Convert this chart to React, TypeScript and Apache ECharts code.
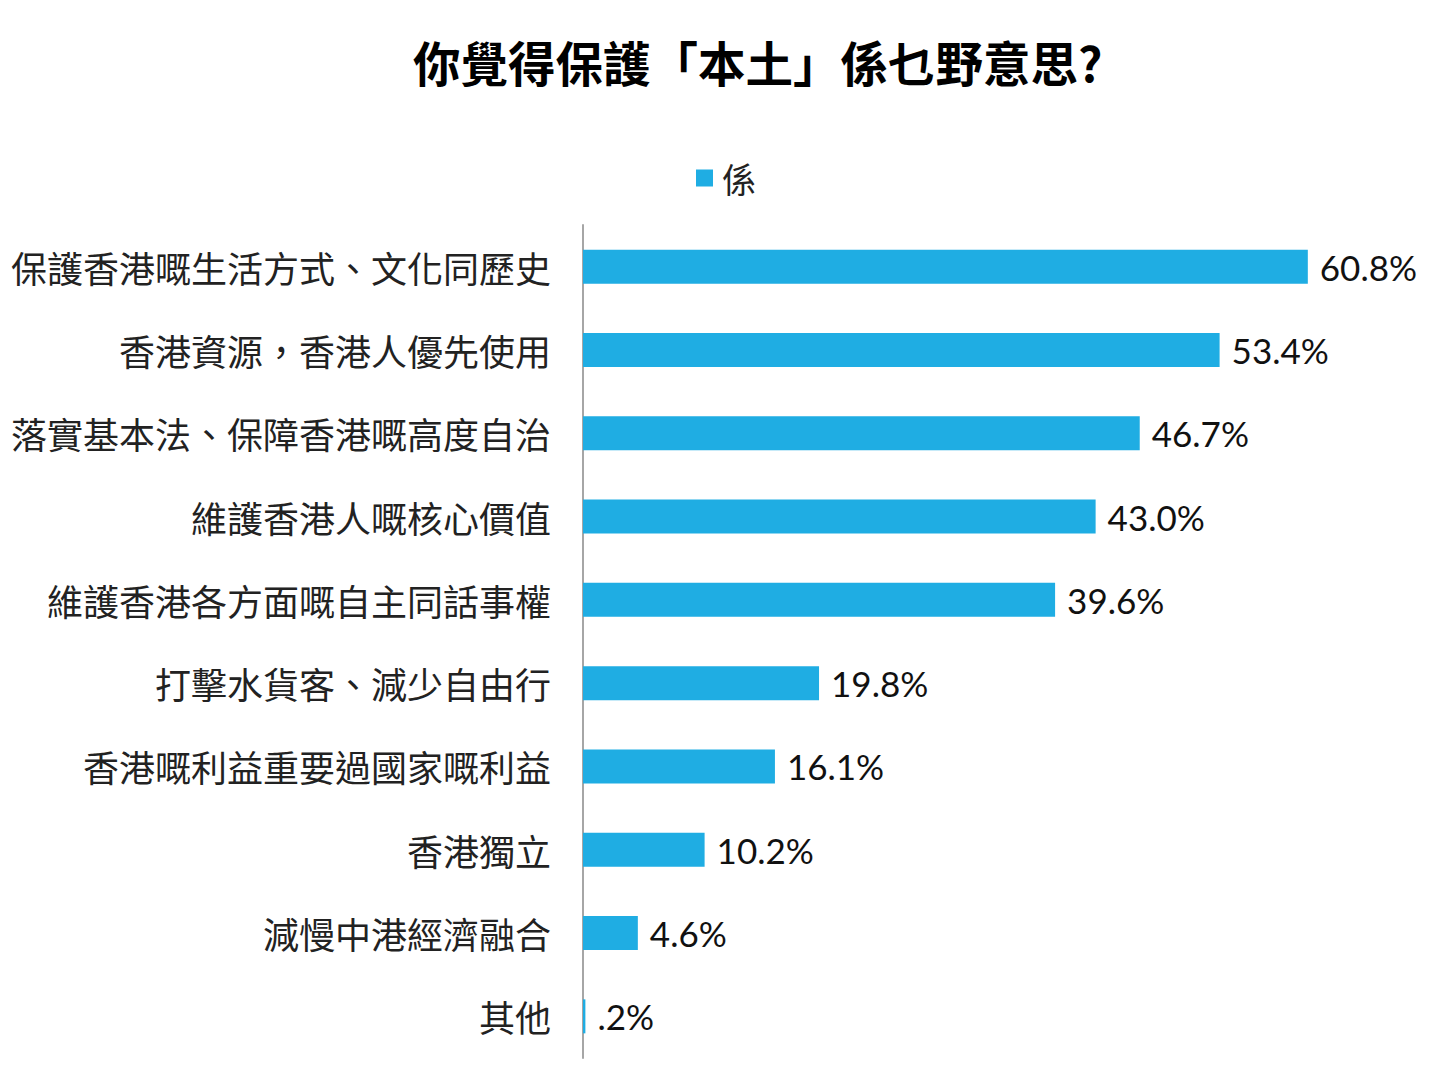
import React, { useEffect, useRef } from "react";
import * as echarts from "echarts";

const categories = [
  "保護香港嘅生活方式、文化同歷史",
  "香港資源，香港人優先使用",
  "落實基本法、保障香港嘅高度自治",
  "維護香港人嘅核心價值",
  "維護香港各方面嘅自主同話事權",
  "打擊水貨客、減少自由行",
  "香港嘅利益重要過國家嘅利益",
  "香港獨立",
  "減慢中港經濟融合",
  "其他",
];
const values = [60.8, 53.4, 46.7, 43.0, 39.6, 19.8, 16.1, 10.2, 4.6, 0.2];
const seriesName = "係";
const titleText = "你覺得保護「本土」係乜野意思?";

const fmt = (v: number) => {
  const s = v.toFixed(1);
  return (v < 1 ? s.replace(/^0/, "") : s) + "%";
};

export default function App() {
  const ref = useRef<HTMLDivElement>(null);
  useEffect(() => {
    if (!ref.current) return;
    const chart = echarts.init(ref.current, null, { renderer: "svg" });
    chart.setOption({
      animation: false,
      backgroundColor: "#ffffff",
      title: {
        text: titleText,
        left: 408,
        top: 33,
        textStyle: {
          fontFamily: "Noto Sans CJK TC",
          fontWeight: "bold",
          fontSize: 47.5,
          color: "#000",
        },
      },
      legend: {
        data: [seriesName],
        top: 156,
        left: 691,
        itemWidth: 17,
        itemHeight: 17,
        itemGap: 10,
        icon: "rect",
        textStyle: {
          fontFamily: "Noto Sans CJK TC",
          fontSize: 34,
          color: "#222",
          padding: [0, 0, 0, 4],
        },
      },
      grid: {
        left: 583,
        right: 22.5,
        top: 225,
        bottom: 1080 - 1058,
        containLabel: false,
      },
      xAxis: {
        type: "value",
        min: 0,
        max: 70,
        show: false,
        splitLine: { show: false },
      },
      yAxis: {
        type: "category",
        data: categories,
        inverse: true,
        axisLine: { show: true, lineStyle: { color: "#a6a6a6", width: 2 } },
        axisTick: { show: false },
        axisLabel: {
          margin: 32,
          fontFamily: "Noto Sans CJK TC",
          fontSize: 36,
          color: "#222",
          padding: [0, 0, 6, 0],
        },
      },
      series: [
        {
          name: seriesName,
          type: "bar",
          data: values,
          barWidth: 34,
          itemStyle: { color: "#1fade3" },
          label: {
            show: true,
            position: "right",
            distance: 12,
            formatter: (p: any) => fmt(p.value),
            fontFamily: "Lato",
            fontSize: 35,
            color: "#111",
          },
        },
      ],
    });
    return () => chart.dispose();
  }, []);
  return <div ref={ref} style={{ width: 1440, height: 1080, margin: -8 }} />;
}
